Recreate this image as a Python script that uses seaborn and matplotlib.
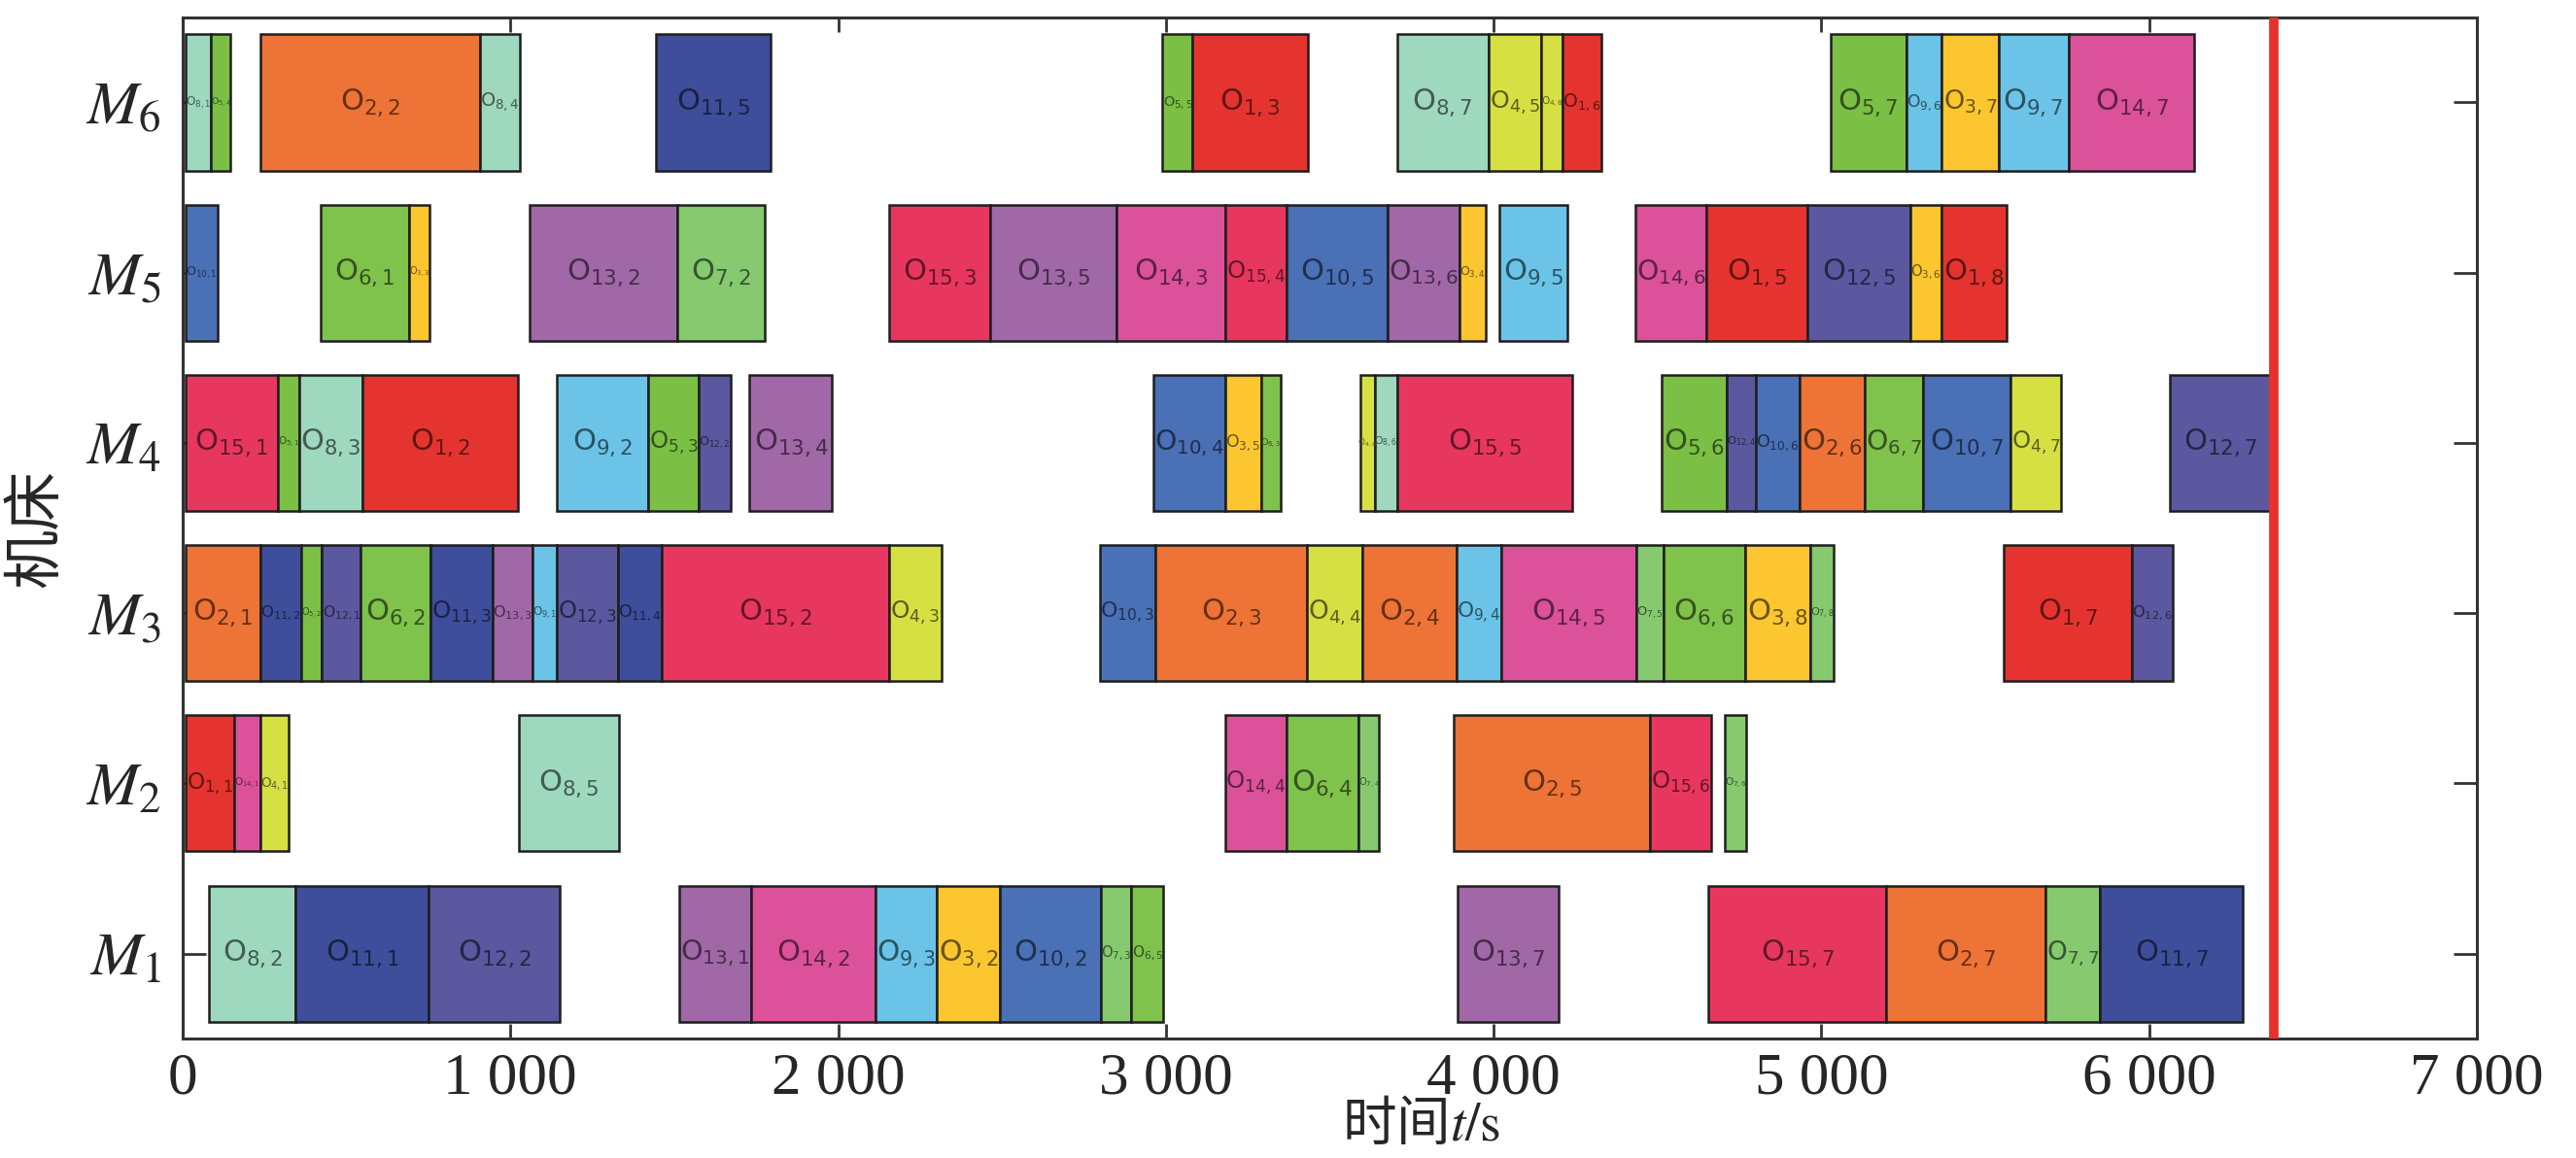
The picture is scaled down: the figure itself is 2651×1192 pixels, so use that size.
#%% MODULE BEGINS
module_name = 'gantt_machines'
'''
Description:
Gantt chart of operations O(i,j) scheduled on machines M1..M6,
with the makespan marked by a red vertical line.
'''

#%% IMPORTS ~~~~~~~~~~~~~~~~~~~~~~~~~~~~~~~~~~~~~~~~~~~~
import numpy as np
import pandas as pd
import matplotlib
matplotlib.use("Agg")
import matplotlib.pyplot as plt
import matplotlib.colors as mcolors
import seaborn as sns

#%% DATA ~~~~~~~~~~~~~~~~~~~~~~~~~~~~~~~~~~~~~~~~~~~~
# (job, operation, start, end) per machine
M1 = [(8, 2, 81, 345), (11, 1, 345, 751), (12, 2, 751, 1151),
      (13, 1, 1515, 1736), (14, 2, 1736, 2113), (9, 3, 2113, 2302),
      (3, 2, 2302, 2493), (10, 2, 2493, 2802), (7, 3, 2802, 2895),
      (6, 5, 2895, 2993), (13, 7, 3890, 4197), (15, 7, 4656, 5199),
      (2, 7, 5199, 5683), (7, 7, 5683, 5851), (11, 7, 5851, 6287)]
M2 = [(1, 1, 9, 157), (14, 1, 157, 236), (4, 1, 236, 323),
      (8, 5, 1025, 1332), (14, 4, 3180, 3368), (6, 4, 3368, 3587),
      (7, 4, 3587, 3651), (2, 5, 3878, 4478), (15, 6, 4478, 4664),
      (7, 6, 4706, 4772)]
M3 = [(2, 1, 9, 237), (11, 2, 237, 363), (5, 2, 363, 425),
      (12, 1, 425, 544), (6, 2, 544, 757), (11, 3, 757, 945),
      (13, 3, 945, 1068), (9, 1, 1068, 1143), (12, 3, 1143, 1327),
      (11, 4, 1327, 1461), (15, 2, 1461, 2157), (4, 3, 2157, 2315),
      (10, 3, 2798, 2968), (2, 3, 2968, 3431), (4, 4, 3431, 3599),
      (2, 4, 3599, 3886), (9, 4, 3886, 4024), (14, 5, 4024, 4435),
      (7, 5, 4435, 4518), (6, 6, 4518, 4768), (3, 8, 4768, 4965),
      (7, 8, 4965, 5037), (1, 7, 5557, 5948), (12, 6, 5948, 6073)]
M4 = [(15, 1, 9, 290), (5, 1, 290, 356), (8, 3, 356, 548),
      (1, 2, 548, 1022), (9, 2, 1143, 1420), (5, 3, 1420, 1575),
      (12, 2, 1575, 1672), (13, 4, 1730, 1982), (10, 4, 2962, 3180),
      (3, 5, 3180, 3290), (6, 3, 3290, 3350), (4, 6, 3595, 3637),
      (8, 6, 3637, 3707), (15, 5, 3707, 4240), (5, 6, 4513, 4711),
      (12, 4, 4711, 4799), (10, 6, 4799, 4934), (2, 6, 4934, 5131),
      (6, 7, 5131, 5311), (10, 7, 5311, 5577), (4, 7, 5577, 5732),
      (12, 7, 6064, 6372)]
M5 = [(10, 1, 9, 106), (6, 1, 422, 690), (3, 3, 690, 753),
      (13, 2, 1058, 1510), (7, 2, 1510, 1776), (15, 3, 2155, 2463),
      (13, 5, 2463, 2850), (14, 3, 2850, 3182), (15, 4, 3182, 3368),
      (10, 5, 3368, 3677), (13, 6, 3677, 3897), (3, 4, 3897, 3976),
      (9, 5, 4018, 4224), (14, 6, 4432, 4650), (1, 5, 4650, 4957),
      (12, 5, 4957, 5272), (3, 6, 5272, 5366), (1, 8, 5366, 5564)]
M6 = [(8, 1, 9, 86), (5, 4, 86, 146), (2, 2, 238, 907),
      (8, 4, 907, 1030), (11, 5, 1445, 1795), (5, 5, 2990, 3082),
      (1, 3, 3082, 3434), (8, 7, 3705, 3984), (4, 5, 3984, 4145),
      (4, 8, 4145, 4210), (1, 6, 4210, 4330), (5, 7, 5028, 5259),
      (9, 6, 5259, 5368), (3, 7, 5368, 5540), (9, 7, 5540, 5755),
      (14, 7, 5755, 6138)]

machines = [M1, M2, M3, M4, M5, M6]
machine_labels = [r"$M_{%d}$" % (i + 1) for i in range(6)]
x_ticks = [0, 1000, 2000, 3000, 4000, 5000, 6000, 7000]
x_tick_labels = ["0", "1 000", "2 000", "3 000", "4 000", "5 000", "6 000", "7 000"]
makespan = 6380

job_colors = {1: "#E5342F", 2: "#EE7336", 3: "#FBC62F", 4: "#D7E043",
              5: "#7BBF44", 6: "#7FC24C", 7: "#86C96F", 8: "#9ED8BE",
              9: "#6BC4E7", 10: "#4A70B6", 11: "#3E4E9B", 12: "#5B58A0",
              13: "#A168A8", 14: "#DB529B", 15: "#E8375F"}

#%% FUNCTIONS ~~~~~~~~~~~~~~~~~~~~~~~~~~~~~~~~~~~~~~~~~~~~
def build_frame():
    '''
    Flatten the machine lists into one table.
    '''
    rows = []
    for m, ops in enumerate(machines, start=1):
        for job, op, start, end in ops:
            rows.append({"machine": m, "job": job, "op": op,
                         "start": start, "end": end})
    df = pd.DataFrame(rows)
    df["dur"] = df["end"] - df["start"]
    return df


def label_size(dur, job, op):
    '''
    Font size so that the label roughly fits inside its bar.
    '''
    n_sub = len("%d,%d" % (job, op))
    # about 4.1 time units per point at this figure size
    size = dur * 0.95 / (4.12 * (0.78 + 0.42 * n_sub))
    return float(np.clip(size, 6.5, 22))


def main():
    '''
    Draw the Gantt chart and save it.
    '''
    sns.set_style("ticks")
    plt.rcParams['font.family'] = ['Liberation Serif', 'Noto Sans CJK SC', 'DejaVu Sans']
    plt.rcParams['mathtext.fontset'] = 'stix'

    df = build_frame()

    fig, ax = plt.subplots(figsize=(26.51, 11.92), dpi=100)
    fig.subplots_adjust(left=0.0709, right=0.9615, top=0.985, bottom=0.103)

    colors = [job_colors[j] for j in df["job"]]
    ax.barh(df["machine"], df["dur"], left=df["start"], height=0.8,
            color=colors, edgecolor="#1e1e1e", linewidth=1.8, zorder=2)

    # operation labels, darker shade of the bar colour
    for _, r in df.iterrows():
        dark = np.array(mcolors.to_rgb(job_colors[r["job"]])) * 0.42
        ax.text((r["start"] + r["end"]) / 2, r["machine"],
                r"O$_{%d,%d}$" % (r["job"], r["op"]),
                ha="center", va="center",
                fontsize=label_size(r["dur"], r["job"], r["op"]), color=dark,
                family="DejaVu Sans", math_fontfamily="dejavusans", zorder=3)

    ax.axvline(makespan, color="#E8302A", linewidth=7, zorder=4)

    ax.set_xlim(0, 7000)
    ax.set_ylim(0.5, 6.5)
    ax.set_xticks(x_ticks)
    ax.set_xticklabels(x_tick_labels)
    ax.set_yticks(range(1, 7))
    ax.set_yticklabels(machine_labels)
    ax.tick_params(axis="x", direction="in", top=True, length=11, width=2,
                   labelsize=44, pad=10, color="#333333")
    ax.tick_params(axis="y", direction="in", right=True, length=17, width=2,
                   labelsize=46, pad=16, color="#333333")
    for s in ax.spines.values():
        s.set_linewidth(2.2)
        s.set_color("#333333")

    ax.set_xlabel(r"时间$t/\mathrm{s}$", fontsize=40,
                  family=['Noto Sans CJK SC', 'DejaVu Sans'])
    ax.xaxis.set_label_coords(0.54, -0.085)
    ax.xaxis.label.set_va("center")
    ax.set_ylabel("机床", fontsize=44, family=['Noto Sans CJK SC', 'DejaVu Sans'])
    ax.yaxis.set_label_coords(-0.064, 0.5)
    ax.yaxis.label.set_va("center")

    fig.savefig("out.png", dpi=100)


#%% SELF-RUN ~~~~~~~~~~~~~~~~~~~~~~~~~~~~~~~~~~~~~~~~~~~~
if __name__ == "__main__":
    main()
